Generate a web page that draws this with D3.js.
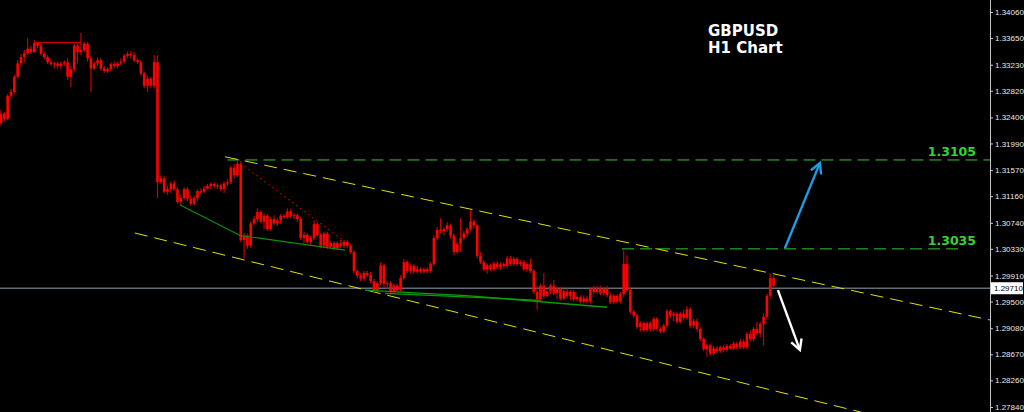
<!DOCTYPE html>
<html>
<head>
<meta charset="utf-8">
<script src="https://cdn.jsdelivr.net/npm/d3@7"></script>
<style>
  html, body { margin: 0; padding: 0; background: #000; overflow: hidden; }
</style>
</head>
<body>
<div id="chart"></div>
<script>
const width = 1024;
const height = 412;

// H1 candles, open = previous close
const firstOpen = 1.3231;
const closes = [
  1.3246, 1.3238, 1.3274, 1.3280, 1.3304, 1.3325, 1.3335, 1.3341, 1.3348, 1.3343, 1.3357, 1.3353,
  1.3340, 1.3335, 1.3327, 1.3324, 1.3325, 1.3321, 1.3325, 1.3327, 1.3304, 1.3316, 1.3353, 1.3343,
  1.3346, 1.3356, 1.3333, 1.3317, 1.3325, 1.3330, 1.3317, 1.3313, 1.3316, 1.3324, 1.3321, 1.3325,
  1.3328, 1.3337, 1.3340, 1.3338, 1.3330, 1.3327, 1.3309, 1.3290, 1.3301, 1.3290, 1.3327, 1.3138,
  1.3144, 1.3123, 1.3127, 1.3136, 1.3127, 1.3107, 1.3113, 1.3127, 1.3112, 1.3104, 1.3113, 1.3124,
  1.3123, 1.3128, 1.3132, 1.3135, 1.3132, 1.3133, 1.3127, 1.3136, 1.3138, 1.3161, 1.3149, 1.3167,
  1.3047, 1.3054, 1.3038, 1.3073, 1.3080, 1.3091, 1.3076, 1.3085, 1.3064, 1.3080, 1.3073, 1.3078,
  1.3085, 1.3083, 1.3092, 1.3085, 1.3086, 1.3080, 1.3050, 1.3055, 1.3044, 1.3050, 1.3072, 1.3055,
  1.3038, 1.3057, 1.3036, 1.3042, 1.3034, 1.3042, 1.3038, 1.3044, 1.3038, 1.3028, 1.2998, 1.2991,
  1.2986, 1.2995, 1.2992, 1.2982, 1.2968, 1.2979, 1.3007, 1.2978, 1.2979, 1.2966, 1.2975, 1.2968,
  1.2987, 1.3012, 1.2998, 1.3006, 1.2997, 1.3001, 1.2997, 1.3001, 1.2998, 1.3009, 1.3050, 1.3063,
  1.3061, 1.3064, 1.3070, 1.3054, 1.3028, 1.3041, 1.3050, 1.3057, 1.3064, 1.3076, 1.3070, 1.3022,
  1.3012, 1.3001, 1.3007, 1.3001, 1.3010, 1.3004, 1.3009, 1.3006, 1.3018, 1.3009, 1.3017, 1.3009,
  1.3012, 1.3001, 1.3009, 1.2998, 1.2965, 1.2954, 1.2975, 1.2959, 1.2966, 1.2975, 1.2963, 1.2970,
  1.2955, 1.2966, 1.2959, 1.2965, 1.2954, 1.2957, 1.2950, 1.2955, 1.2950, 1.2970, 1.2965, 1.2971,
  1.2963, 1.2970, 1.2960, 1.2949, 1.2959, 1.2950, 1.2962, 1.3009, 1.2968, 1.2934, 1.2928, 1.2910,
  1.2916, 1.2905, 1.2916, 1.2907, 1.2923, 1.2907, 1.2903, 1.2912, 1.2935, 1.2928, 1.2931, 1.2918,
  1.2931, 1.2924, 1.2938, 1.2912, 1.2919, 1.2907, 1.2891, 1.2875, 1.2881, 1.2868, 1.2876, 1.2872,
  1.2878, 1.2874, 1.2880, 1.2876, 1.2884, 1.2878, 1.2887, 1.2878, 1.2899, 1.2891, 1.2907, 1.2900,
  1.2915, 1.2926, 1.2959, 1.2987, 1.2975
];
const highs = [
  1.3252, 1.3249, 1.3277, 1.3285, 1.3307, 1.3330, 1.3340, 1.3346, 1.3365, 1.3353, 1.3362, 1.3360,
  1.3356, 1.3344, 1.3338, 1.3330, 1.3328, 1.3328, 1.3328, 1.3330, 1.3333, 1.3321, 1.3356, 1.3356,
  1.3373, 1.3359, 1.3359, 1.3338, 1.3328, 1.3335, 1.3333, 1.3321, 1.3319, 1.3327, 1.3328, 1.3328,
  1.3333, 1.3340, 1.3344, 1.3344, 1.3343, 1.3333, 1.3330, 1.3312, 1.3306, 1.3304, 1.3338, 1.3338,
  1.3149, 1.3148, 1.3132, 1.3139, 1.3141, 1.3130, 1.3118, 1.3130, 1.3130, 1.3117, 1.3117, 1.3127,
  1.3128, 1.3132, 1.3135, 1.3138, 1.3138, 1.3136, 1.3136, 1.3139, 1.3143, 1.3164, 1.3167, 1.3173,
  1.3171, 1.3058, 1.3057, 1.3076, 1.3085, 1.3097, 1.3094, 1.3089, 1.3088, 1.3083, 1.3086, 1.3081,
  1.3088, 1.3088, 1.3097, 1.3096, 1.3089, 1.3089, 1.3083, 1.3060, 1.3058, 1.3054, 1.3078, 1.3075,
  1.3058, 1.3060, 1.3060, 1.3045, 1.3045, 1.3045, 1.3047, 1.3047, 1.3047, 1.3041, 1.3031, 1.3001,
  1.2995, 1.2998, 1.2998, 1.2997, 1.2986, 1.2982, 1.3012, 1.3010, 1.2982, 1.2982, 1.2978, 1.2978,
  1.2991, 1.3017, 1.3015, 1.3009, 1.3009, 1.3006, 1.3004, 1.3004, 1.3004, 1.3012, 1.3054, 1.3067,
  1.3081, 1.3067, 1.3075, 1.3073, 1.3057, 1.3044, 1.3081, 1.3061, 1.3067, 1.3094, 1.3080, 1.3073,
  1.3028, 1.3015, 1.3010, 1.3010, 1.3013, 1.3013, 1.3012, 1.3012, 1.3022, 1.3022, 1.3020, 1.3020,
  1.3015, 1.3015, 1.3012, 1.3018, 1.3001, 1.2975, 1.2978, 1.2995, 1.2970, 1.2978, 1.2984, 1.2973,
  1.2973, 1.2970, 1.2970, 1.2968, 1.2968, 1.2960, 1.2960, 1.2959, 1.2959, 1.2973, 1.2975, 1.2975,
  1.2975, 1.2973, 1.2975, 1.2963, 1.2962, 1.2962, 1.2965, 1.3031, 1.3023, 1.2971, 1.2937, 1.2931,
  1.2919, 1.2919, 1.2919, 1.2919, 1.2926, 1.2926, 1.2910, 1.2915, 1.2938, 1.2938, 1.2934, 1.2934,
  1.2934, 1.2937, 1.2943, 1.2941, 1.2923, 1.2923, 1.2910, 1.2894, 1.2884, 1.2884, 1.2880, 1.2880,
  1.2881, 1.2881, 1.2883, 1.2883, 1.2887, 1.2887, 1.2891, 1.2891, 1.2902, 1.2905, 1.2910, 1.2918,
  1.2918, 1.2931, 1.2962, 1.2994, 1.2991
];
const lows = [
  1.3227, 1.3234, 1.3236, 1.3269, 1.3277, 1.3301, 1.3321, 1.3327, 1.3338, 1.3340, 1.3341, 1.3349,
  1.3337, 1.3332, 1.3324, 1.3321, 1.3317, 1.3317, 1.3316, 1.3321, 1.3299, 1.3288, 1.3313, 1.3325,
  1.3338, 1.3343, 1.3328, 1.3280, 1.3315, 1.3321, 1.3313, 1.3310, 1.3310, 1.3313, 1.3317, 1.3317,
  1.3322, 1.3325, 1.3333, 1.3333, 1.3327, 1.3324, 1.3306, 1.3286, 1.3280, 1.3286, 1.3285, 1.3113,
  1.3135, 1.3120, 1.3118, 1.3121, 1.3124, 1.3104, 1.3102, 1.3110, 1.3108, 1.3101, 1.3101, 1.3108,
  1.3120, 1.3120, 1.3126, 1.3127, 1.3128, 1.3127, 1.3124, 1.3121, 1.3132, 1.3135, 1.3144, 1.3146,
  1.3044, 1.3018, 1.3033, 1.3034, 1.3070, 1.3075, 1.3073, 1.3064, 1.3061, 1.3061, 1.3070, 1.3069,
  1.3072, 1.3080, 1.3080, 1.3081, 1.3080, 1.3076, 1.3047, 1.3042, 1.3041, 1.3038, 1.3047, 1.3052,
  1.3034, 1.3034, 1.3033, 1.3033, 1.3031, 1.3031, 1.3034, 1.3034, 1.3034, 1.3025, 1.2995, 1.2987,
  1.2982, 1.2982, 1.2989, 1.2979, 1.2963, 1.2965, 1.2976, 1.2973, 1.2970, 1.2963, 1.2962, 1.2965,
  1.2965, 1.2984, 1.2995, 1.2994, 1.2994, 1.2994, 1.2994, 1.2994, 1.2995, 1.2995, 1.3006, 1.3047,
  1.3057, 1.3054, 1.3060, 1.3049, 1.3023, 1.3025, 1.3028, 1.3047, 1.3052, 1.3061, 1.3065, 1.3018,
  1.3009, 1.2998, 1.2994, 1.2998, 1.2998, 1.3001, 1.3000, 1.3002, 1.3002, 1.3006, 1.3006, 1.3006,
  1.3006, 1.2998, 1.2997, 1.2995, 1.2962, 1.2937, 1.2950, 1.2955, 1.2957, 1.2962, 1.2960, 1.2954,
  1.2952, 1.2952, 1.2955, 1.2952, 1.2950, 1.2950, 1.2947, 1.2947, 1.2947, 1.2947, 1.2962, 1.2962,
  1.2960, 1.2959, 1.2957, 1.2946, 1.2946, 1.2947, 1.2947, 1.2957, 1.2965, 1.2931, 1.2924, 1.2907,
  1.2903, 1.2902, 1.2902, 1.2903, 1.2903, 1.2903, 1.2900, 1.2900, 1.2908, 1.2924, 1.2919, 1.2915,
  1.2915, 1.2921, 1.2921, 1.2908, 1.2908, 1.2903, 1.2887, 1.2872, 1.2863, 1.2865, 1.2865, 1.2869,
  1.2869, 1.2871, 1.2871, 1.2874, 1.2874, 1.2875, 1.2875, 1.2875, 1.2875, 1.2887, 1.2887, 1.2897,
  1.2894, 1.2881, 1.2923, 1.2955, 1.2971
];

const yTicks = [1.34060, 1.33650, 1.33230, 1.32820, 1.32400, 1.31990, 1.31570, 1.31160,
  1.30740, 1.30330, 1.29910, 1.29500, 1.29080, 1.28670, 1.28260, 1.27840];
const currentPrice = 1.29710;

// horizontal target levels (line price, written label, bar range)
const levelPrices = [1.3173, 1.3033];
const levelLabels = ["1.3105", "1.3035"];
const levelStart = [68, 186.5];
const levelEnd = [297, 288.6];

// drawn objects as [bar index, price]
const channelUpper = [[67.3, 1.3178], [297, 1.2921]];
const channelLower = [[40.2, 1.3058], [262, 1.2771]];
const greenLineA = [[53.8, 1.3102], [71.8, 1.3054], [103.3, 1.3031]];
const greenLineB = [[109.3, 1.2968], [140.8, 1.2959], [182, 1.2941]];
const greenLineC = [[115.3, 1.2963], [161.9, 1.2952]];
const redDotted = [[71.8, 1.3168], [103.3, 1.3044]];
const redTop = [[10, 1.3358], [24, 1.3358]];
const blueArrow = [[235.4, 1.3034], [245.9, 1.3168]];
const whiteArrow = [[233.3, 1.2968], [239.9, 1.2874]];

const opens = [firstOpen].concat(closes.slice(0, -1));
const candles = closes.map((c, i) => ({ i: i, o: opens[i], h: highs[i], l: lows[i], c: c }));

const axisX = 990;

const x = d3.scaleLinear().domain([0, 300]).range([1, 1000]);
const y = d3.scaleLinear().domain([1.34249, 1.27761]).range([0, height]);

const svg = d3.select("#chart")
  .append("svg")
  .attr("width", width)
  .attr("height", height)
  .style("background", "#000")
  .style("display", "block");

const defs = svg.append("defs");
defs.append("clipPath").attr("id", "plot")
  .append("rect").attr("x", 0).attr("y", 0).attr("width", axisX).attr("height", height);

function head(id, color) {
  defs.append("marker")
    .attr("id", id)
    .attr("viewBox", "0 0 14 14")
    .attr("refX", 12)
    .attr("refY", 7)
    .attr("markerWidth", 14)
    .attr("markerHeight", 14)
    .attr("markerUnits", "userSpaceOnUse")
    .attr("orient", "auto")
    .append("path")
    .attr("d", "M2,1.5 L12,7 L2,12.5")
    .attr("fill", "none")
    .attr("stroke", color)
    .attr("stroke-width", 2.4);
}
head("head-blue", "#1e9ce6");
head("head-white", "#ffffff");

const plot = svg.append("g").attr("clip-path", "url(#plot)");
const line = d3.line().x(d => x(d[0])).y(d => y(d[1]));

// current price line
plot.append("line")
  .attr("x1", 0).attr("x2", axisX)
  .attr("y1", y(currentPrice)).attr("y2", y(currentPrice))
  .attr("stroke", "#646c78")
  .attr("stroke-width", 1.6);

// green target levels
plot.selectAll(".level")
  .data(levelPrices)
  .enter()
  .append("line")
  .attr("class", "level")
  .attr("x1", (d, k) => x(levelStart[k]))
  .attr("x2", (d, k) => x(levelEnd[k]))
  .attr("y1", d => y(d))
  .attr("y2", d => y(d))
  .attr("stroke", "#2ecc2e")
  .attr("stroke-width", 1)
  .attr("stroke-dasharray", "12,6");

// yellow channel
[channelUpper, channelLower].forEach(pts => {
  plot.append("path")
    .attr("d", line(pts))
    .attr("fill", "none")
    .attr("stroke", "#e0e000")
    .attr("stroke-width", 1)
    .attr("stroke-dasharray", "13,7");
});

// candles
plot.selectAll(".wick")
  .data(candles)
  .enter()
  .append("line")
  .attr("x1", d => x(d.i))
  .attr("x2", d => x(d.i))
  .attr("y1", d => y(d.h))
  .attr("y2", d => y(d.l))
  .attr("stroke", "#c80000")
  .attr("stroke-width", 1.2);

plot.selectAll(".body")
  .data(candles)
  .enter()
  .append("rect")
  .attr("x", d => x(d.i) - 1.3)
  .attr("width", 2.6)
  .attr("y", d => y(Math.max(d.o, d.c)))
  .attr("height", d => Math.max(1, Math.abs(y(d.o) - y(d.c))))
  .attr("fill", "#ff0000");

// other drawn lines
plot.append("path").attr("d", line(greenLineA))
  .attr("fill", "none").attr("stroke", "#0a8f0a").attr("stroke-width", 1.2);
plot.append("path").attr("d", line(greenLineB))
  .attr("fill", "none").attr("stroke", "#0a9a0a").attr("stroke-width", 1.4);
plot.append("path").attr("d", line(greenLineC))
  .attr("fill", "none").attr("stroke", "#0a9a0a").attr("stroke-width", 1.2);
plot.append("path").attr("d", line(redDotted))
  .attr("fill", "none").attr("stroke", "#c00000").attr("stroke-width", 1)
  .attr("stroke-dasharray", "2,3");
plot.append("path").attr("d", line(redTop))
  .attr("fill", "none").attr("stroke", "#d00000").attr("stroke-width", 1);

// arrows
plot.append("path").attr("d", line(blueArrow))
  .attr("fill", "none").attr("stroke", "#1e9ce6").attr("stroke-width", 2.4)
  .attr("marker-end", "url(#head-blue)");
plot.append("path").attr("d", line(whiteArrow))
  .attr("fill", "none").attr("stroke", "#ffffff").attr("stroke-width", 2.4)
  .attr("marker-end", "url(#head-white)");

// level labels
svg.selectAll(".level-label")
  .data(levelPrices)
  .enter()
  .append("text")
  .attr("x", 976)
  .attr("y", d => y(d) - 4)
  .attr("text-anchor", "end")
  .attr("font-family", "DejaVu Sans, sans-serif")
  .attr("font-weight", "bold")
  .attr("font-size", "12.5px")
  .attr("fill", "#33d433")
  .text((d, k) => levelLabels[k]);

// title
svg.append("text")
  .attr("x", 708).attr("y", 36)
  .attr("font-family", "DejaVu Sans, sans-serif")
  .attr("font-weight", "bold")
  .attr("font-size", "15px")
  .attr("fill", "#fff")
  .text("GBPUSD");
svg.append("text")
  .attr("x", 708).attr("y", 53)
  .attr("font-family", "DejaVu Sans, sans-serif")
  .attr("font-weight", "bold")
  .attr("font-size", "15px")
  .attr("fill", "#fff")
  .text("H1 Chart");

// price axis
const yAxis = d3.axisRight(y)
  .tickValues(yTicks)
  .tickFormat(d3.format(".5f"))
  .tickSize(3)
  .tickPadding(2);

const ax = svg.append("g")
  .attr("transform", `translate(${axisX},0)`)
  .call(yAxis);
ax.select(".domain").attr("stroke", "#c8c8c8").attr("d", `M0.5,0V${height}`);
ax.selectAll(".tick line").attr("stroke", "#c8c8c8");
ax.selectAll(".tick text")
  .attr("fill", "#e6e6e6")
  .attr("font-family", "Liberation Sans, Arial, sans-serif")
  .attr("font-size", "8px");

// current price box
svg.append("rect")
  .attr("x", axisX + 1).attr("y", y(currentPrice) - 6)
  .attr("width", 32).attr("height", 12)
  .attr("fill", "#fff");
svg.append("text")
  .attr("x", axisX + 4).attr("y", y(currentPrice) + 3)
  .attr("font-family", "Liberation Sans, Arial, sans-serif")
  .attr("font-size", "8px")
  .attr("fill", "#000")
  .text(d3.format(".5f")(currentPrice));
</script>
</body>
</html>
